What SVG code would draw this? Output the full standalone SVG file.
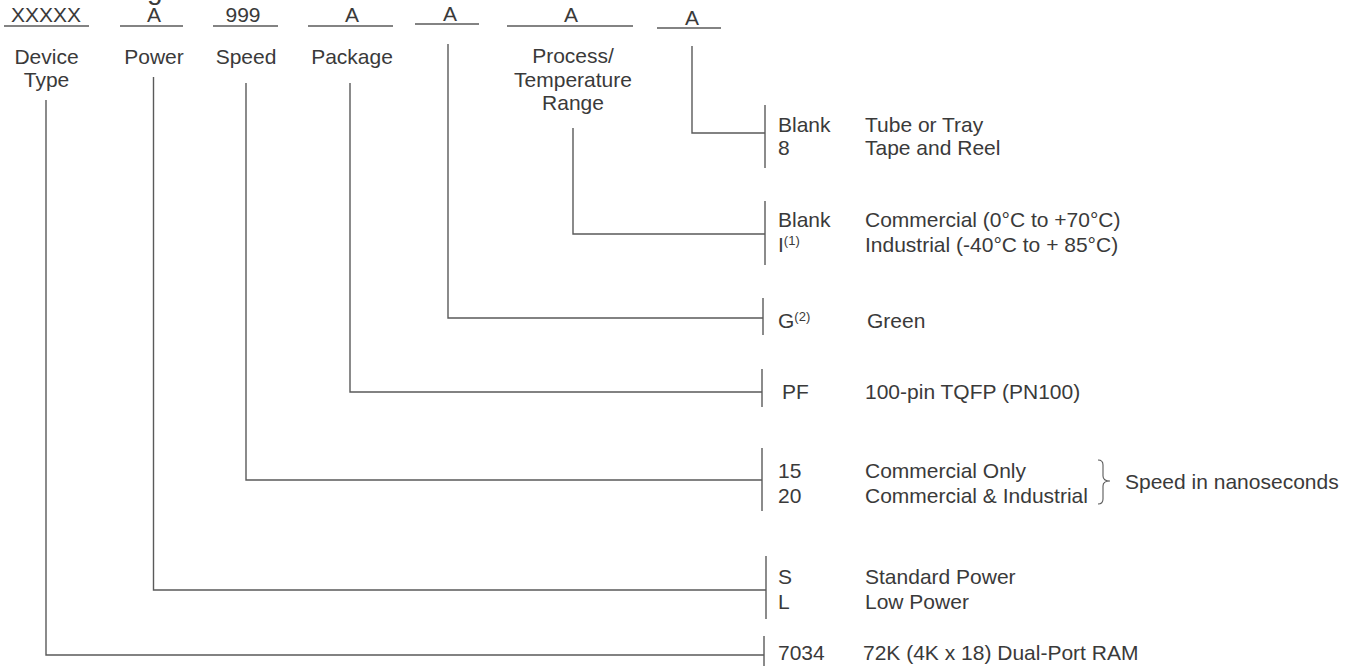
<svg xmlns="http://www.w3.org/2000/svg" width="1352" height="666" viewBox="0 0 1352 666">
<style>
text{font-family:"Liberation Sans",Arial,sans-serif;font-size:21px;fill:#3a3a3a}
.c{text-anchor:middle}
.sup{font-size:13px}
.ln{stroke:#5a5a5a;stroke-width:1.4;fill:none}
</style>
<rect width="1352" height="666" fill="#ffffff"/>
<text x="147" y="-1" style="font-size:28px">g</text>
<g id="header">
  <g id="h-device"><text class="c" x="46" y="22">XXXXX</text><line class="ln" x1="4" y1="26" x2="89" y2="26"/>
    <text class="c" x="46.5" y="64">Device</text><text class="c" x="46.5" y="87">Type</text></g>
  <g id="h-power"><text class="c" x="154" y="22">A</text><line class="ln" x1="120" y1="26" x2="183" y2="26"/>
    <text class="c" x="154" y="64">Power</text></g>
  <g id="h-speed"><text class="c" x="243" y="22">999</text><line class="ln" x1="213" y1="26" x2="278" y2="26"/>
    <text class="c" x="246" y="64">Speed</text></g>
  <g id="h-package"><text class="c" x="352" y="22">A</text><line class="ln" x1="308" y1="26" x2="393" y2="26"/>
    <text class="c" x="352" y="64">Package</text></g>
  <g id="h-green"><text class="c" x="450" y="21">A</text><line class="ln" x1="415" y1="24" x2="479" y2="24"/></g>
  <g id="h-process"><text class="c" x="571" y="22">A</text><line class="ln" x1="507" y1="26" x2="633" y2="26"/>
    <text class="c" x="573" y="63">Process/</text><text class="c" x="573" y="87">Temperature</text><text class="c" x="573" y="110">Range</text></g>
  <g id="h-pack"><text class="c" x="692" y="25">A</text><line class="ln" x1="657" y1="28" x2="721" y2="28"/></g>
</g>
<g id="connectors">
  <path class="ln" d="M692,46 V133 H765"/>
  <path class="ln" d="M573,128 V234 H765"/>
  <path class="ln" d="M448,44 V318 H763"/>
  <path class="ln" d="M350,83 V392 H762"/>
  <path class="ln" d="M246,83 V480 H762"/>
  <path class="ln" d="M153.5,77 V590 H766"/>
  <path class="ln" d="M46,100 V655 H764"/>
  <line class="ln" x1="765" y1="105" x2="765" y2="168"/>
  <line class="ln" x1="765" y1="201" x2="765" y2="265"/>
  <line class="ln" x1="763" y1="298" x2="763" y2="335"/>
  <line class="ln" x1="762" y1="369" x2="762" y2="407"/>
  <line class="ln" x1="762" y1="448" x2="762" y2="511"/>
  <line class="ln" x1="766" y1="556" x2="766" y2="619"/>
  <line class="ln" x1="764" y1="636" x2="764" y2="670"/>
  <path class="ln" d="M1098,460 Q1103,460 1103,465 V476 Q1103,481 1110,481 Q1103,481 1103,486 V499 Q1103,504 1098,504" style="stroke-width:1.1"/>
</g>
<g id="opt-pack">
  <text x="778" y="132">Blank</text><text x="778" y="155">8</text>
  <text x="865" y="132">Tube or Tray</text><text x="865" y="155">Tape and Reel</text>
</g>
<g id="opt-process">
  <text x="778" y="227">Blank</text><text x="778" y="252">I<tspan class="sup" dy="-7">(1)</tspan></text>
  <text x="865" y="227">Commercial (0°C to +70°C)</text><text x="865" y="252">Industrial (-40°C to + 85°C)</text>
</g>
<g id="opt-green">
  <text x="778" y="328">G<tspan class="sup" dy="-7">(2)</tspan></text>
  <text x="867" y="328">Green</text>
</g>
<g id="opt-package">
  <text x="782" y="399">PF</text><text x="865" y="399">100-pin TQFP (PN100)</text>
</g>
<g id="opt-speed">
  <text x="778" y="478">15</text><text x="778" y="503">20</text>
  <text x="865" y="478">Commercial Only</text><text x="865" y="503">Commercial &amp; Industrial</text>
  <text x="1125" y="489">Speed in nanoseconds</text>
</g>
<g id="opt-power">
  <text x="778" y="584">S</text><text x="778" y="609">L</text>
  <text x="865" y="584">Standard Power</text><text x="865" y="609">Low Power</text>
</g>
<g id="opt-device">
  <text x="778" y="660">7034</text><text x="863" y="660">72K (4K x 18) Dual-Port RAM</text>
</g>
</svg>
